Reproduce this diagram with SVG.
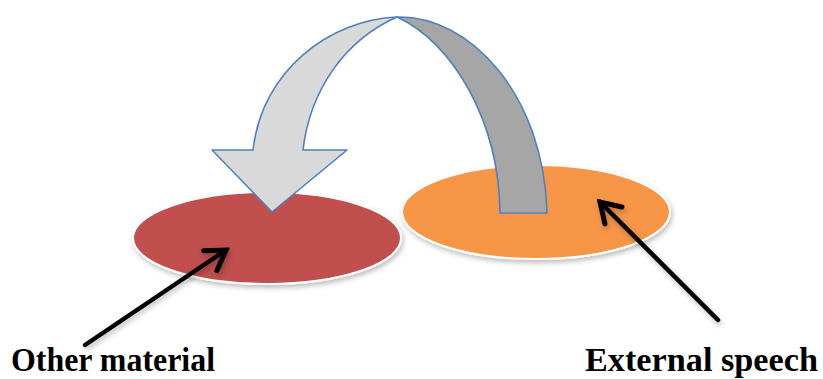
<svg xmlns="http://www.w3.org/2000/svg" width="823" height="379" viewBox="0 0 823 379">
  <defs>
    <filter id="soft" x="-20%" y="-20%" width="140%" height="150%">
      <feDropShadow dx="1.5" dy="3" stdDeviation="2.5" flood-color="#000" flood-opacity="0.25"/>
    </filter>
    <marker id="vhead" markerUnits="userSpaceOnUse" viewBox="-24 -16 28 32" markerWidth="28" markerHeight="32" refX="0" refY="0" orient="auto" overflow="visible">
      <path d="M -19,-12 L 0,0 L -19,12" fill="none" stroke="#000" stroke-width="5" stroke-linejoin="miter" stroke-linecap="round"/>
    </marker>
    <style>
      .disc { stroke: #fff; stroke-width: 2; filter: url(#soft); }
      .pointer { fill: none; stroke: #000; stroke-width: 4.5; stroke-linecap: round; marker-end: url(#vhead); filter: url(#soft); }
      .band { stroke: #4F81BD; stroke-width: 1.6; stroke-linejoin: round; }
      .label { font-family: "Liberation Serif", "DejaVu Serif", serif; font-weight: bold; font-size: 33px; fill: #000; }
    </style>
  </defs>

  <!-- two discs -->
  <g id="other-material-disc">
    <ellipse class="disc" cx="267" cy="238" rx="134" ry="46" fill="#C0504D"/>
  </g>
  <g id="external-speech-disc">
    <ellipse class="disc" cx="536" cy="212" rx="134" ry="47" fill="#F79646"/>
  </g>

  <!-- curved arrow from the orange disc back to the red disc -->
  <g id="curved-arrow">
    <path class="band" fill="#A6A6A6" d="M 397,17 C 470,15 544,95 547,213 L 500,213 C 499,120 452,42 397,17 Z"/>
    <path class="band" fill="#D9D9D9" d="M 397,17 C 330,20 262,70 253,150 L 212,150 L 272,212 L 347,150 L 303,150 C 310,90 345,40 397,17 Z"/>
  </g>

  <!-- pointers -->
  <g id="connectors">
    <line class="pointer" x1="85" y1="345" x2="226" y2="250"/>
    <line class="pointer" x1="718" y1="320" x2="600" y2="202"/>
  </g>

  <!-- labels -->
  <g id="label-other-material">
    <text class="label" x="11" y="371" textLength="204" lengthAdjust="spacingAndGlyphs">Other material</text>
  </g>
  <g id="label-external-speech">
    <text class="label" x="585" y="371" textLength="233" lengthAdjust="spacingAndGlyphs">External speech</text>
  </g>
</svg>
